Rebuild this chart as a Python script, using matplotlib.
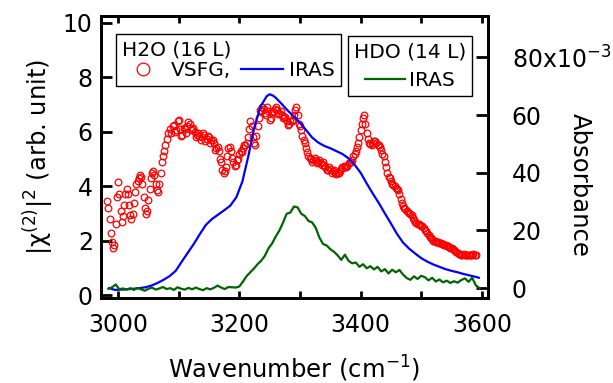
import numpy as np
from matplotlib import pyplot as plt
from matplotlib.ticker import FuncFormatter

plt.rcParams['font.family'] = ['DejaVu Sans']
plt.rcParams['mathtext.default'] = 'regular'

# H2O (16 L) VSFG, |chi(2)|^2 in arb. unit
vsfg_wn = [2982, 2984, 2986, 2988, 2990, 2992, 2994, 2996, 2998, 3000,
           3002, 3004, 3006, 3008, 3010, 3012, 3014, 3016, 3018, 3020,
           3022, 3024, 3026, 3028, 3030, 3032, 3034, 3036, 3038, 3040,
           3042, 3044, 3046, 3048, 3050, 3052, 3054, 3056, 3058, 3060,
           3062, 3064, 3066, 3068, 3070, 3072, 3074, 3076, 3078, 3080,
           3082, 3086, 3090, 3094, 3098, 3102, 3106, 3110, 3114, 3118,
           3122, 3126, 3130, 3134, 3138, 3142, 3146, 3150, 3154, 3158,
           3162, 3166, 3170, 3174, 3178, 3182, 3186, 3190, 3194, 3198,
           3202, 3206, 3210, 3214, 3216, 3218, 3220, 3222, 3226, 3230,
           3234, 3238, 3242, 3246, 3250, 3254, 3258, 3262, 3266, 3270,
           3274, 3278, 3282, 3286, 3290, 3292, 3294, 3296, 3298, 3302,
           3306, 3310, 3314, 3318, 3322, 3326, 3330, 3334, 3338, 3342,
           3346, 3350, 3354, 3358, 3362, 3366, 3370, 3374, 3378, 3382,
           3386, 3390, 3394, 3398, 3400, 3402, 3404, 3406, 3408, 3410,
           3414, 3418, 3422, 3426, 3430, 3434, 3438, 3442, 3446, 3450,
           3454, 3458, 3462, 3466, 3470, 3474, 3478, 3482, 3486, 3490,
           3494, 3498, 3502, 3506, 3510, 3514, 3518, 3522, 3526, 3530,
           3534, 3538, 3542, 3546, 3550, 3554, 3558, 3562, 3566, 3570,
           3574, 3578, 3582, 3586, 3590,
           3088, 3092, 3096, 3100, 3104, 3108, 3112, 3116, 3120, 3124,
           3128, 3132, 3136, 3140, 3144, 3148, 3152, 3156, 3160, 3164,
           3168, 3172, 3176, 3180, 3184, 3188, 3192, 3196, 3200, 3204,
           3208, 3212, 3224, 3228, 3232, 3236, 3240, 3244, 3248, 3252,
           3256, 3260, 3264, 3268, 3272, 3276, 3280, 3284, 3288, 3300,
           3304, 3308, 3312, 3316, 3320, 3324, 3328, 3332, 3336, 3340,
           3344, 3348, 3352, 3356, 3360, 3364, 3368, 3372, 3376, 3380,
           3384, 3388, 3392, 3396, 3412, 3416, 3420, 3424, 3428, 3432,
           3436, 3440, 3444, 3448, 3452, 3456, 3460, 3464, 3468, 3472,
           3476, 3480, 3484, 3488, 3492, 3496, 3500, 3504, 3508, 3512,
           3516, 3520, 3524, 3528, 3532, 3536, 3540, 3544, 3548, 3552,
           3556, 3560, 3564, 3568, 3572, 3576, 3580, 3584, 3588]
vsfg_val = [3.45, 3.2, 2.8, 2.3, 1.95, 1.75, 1.85, 2.6, 3.6, 4.15,
            3.7, 3.1, 2.7, 2.9, 3.3, 3.7, 3.9, 3.7, 3.3, 2.95,
            2.8, 3.0, 3.4, 3.8, 4.1, 4.2, 4.3, 4.4, 4.35, 4.1,
            3.6, 3.2, 3.0, 3.1, 3.5, 3.9, 4.3, 4.5, 4.55, 4.4,
            4.1, 3.85, 3.8, 4.1, 4.5, 4.9, 5.1, 5.3, 5.5, 5.75,
            5.95, 6.1, 6.2, 6.0, 6.4, 6.1, 5.9, 6.1, 6.2, 6.3,
            6.1, 6.0, 5.9, 5.85, 5.8, 5.9, 5.75, 5.8, 5.7, 5.6,
            5.4, 5.3, 4.9, 4.5, 4.7, 5.4, 5.3, 4.9, 4.8, 5.0,
            5.3, 5.4, 5.5, 5.8, 6.1, 6.4, 6.2, 5.8, 5.5, 6.2,
            6.8, 6.9, 6.7, 6.9, 6.45, 6.7, 6.85, 6.8, 6.7, 6.6,
            6.55, 6.4, 6.3, 6.4, 6.6, 6.8, 6.9, 6.6, 6.3, 6.05,
            5.7, 5.4, 5.1, 5.0, 4.95, 4.97, 4.9, 4.85, 4.9, 4.7,
            4.6, 4.65, 4.55, 4.5, 4.48, 4.55, 4.7, 4.72, 4.75, 4.9,
            4.97, 5.2, 5.45, 5.8, 6.05, 6.3, 6.5, 6.6, 6.3, 5.95,
            5.6, 5.5, 5.65, 5.6, 5.5, 5.35, 5.1, 4.7, 4.36, 4.2,
            4.05, 3.95, 3.87, 3.55, 3.26, 3.15, 3.05, 3.0, 2.85, 2.7,
            2.62, 2.58, 2.53, 2.4, 2.3, 2.15, 2.05, 1.98, 1.95, 1.93,
            1.9, 1.85, 1.8, 1.78, 1.72, 1.67, 1.6, 1.52, 1.49, 1.5,
            1.46, 1.49, 1.47, 1.5, 1.48,
            5.95, 6.25, 6.05, 6.45, 5.85, 6.15, 5.95, 6.35, 6.05, 6.15,
            5.8, 5.95, 5.7, 5.95, 5.65, 5.85, 5.6, 5.7, 5.35, 5.45,
            5.0, 4.6, 4.55, 5.1, 5.45, 5.05, 4.75, 4.95, 5.2, 5.25,
            5.5, 5.6, 5.6, 5.85, 6.5, 6.75, 6.85, 6.6, 6.75, 6.5,
            6.75, 6.9, 6.65, 6.75, 6.5, 6.55, 6.25, 6.4, 6.45, 6.2,
            5.85, 5.6, 5.25, 5.05, 4.9, 5.05, 4.85, 4.95, 4.8, 4.8,
            4.6, 4.7, 4.5, 4.6, 4.45, 4.5, 4.65, 4.75, 4.7, 4.85,
            4.9, 5.1, 5.3, 5.6, 5.75, 5.55, 5.6, 5.65, 5.5, 5.45,
            5.2, 4.9, 4.5, 4.3, 4.1, 4.0, 3.9, 3.7, 3.4, 3.2,
            3.1, 3.02, 2.95, 2.78, 2.66, 2.6, 2.55, 2.47, 2.35, 2.22,
            2.1, 2.0, 1.96, 1.94, 1.91, 1.87, 1.83, 1.79, 1.75, 1.7,
            1.63, 1.56, 1.5, 1.48, 1.47, 1.48, 1.46, 1.49, 1.47]

# H2O (16 L) IRAS absorbance (x10^-3)
h2o_wn = [2985, 2995, 3005, 3015, 3025, 3035, 3045, 3055, 3065, 3075,
          3085, 3095, 3105, 3115, 3125, 3135, 3145, 3155, 3165, 3175,
          3185, 3195, 3205, 3215, 3225, 3235, 3245, 3250, 3255, 3260,
          3270, 3280, 3290, 3300, 3310, 3320, 3330, 3340, 3350, 3360,
          3370, 3380, 3390, 3400, 3410, 3420, 3430, 3440, 3450, 3460,
          3470, 3480, 3490, 3500, 3510, 3520, 3530, 3540, 3550, 3560,
          3570, 3580, 3590, 3595]
h2o_abs = [0.0, -0.6, -0.5, -0.4, -0.2, 0.0, 0.3, 0.9, 1.8, 2.9,
           4.2, 6.0, 9.2, 12.3, 15.4, 18.8, 22.0, 24.0, 25.5, 27.0,
           28.6, 31.5, 37.0, 46.0, 56.0, 63.0, 66.5, 67.2, 66.8, 66.0,
           63.8, 61.5, 59.5, 57.3, 54.8, 52.2, 50.5, 49.3, 48.5, 47.5,
           46.5, 45.0, 42.8, 40.0, 36.3, 32.8, 29.5, 25.9, 22.4, 18.8,
           15.8, 13.7, 12.0, 10.4, 9.2, 8.2, 7.4, 6.6, 6.0, 5.5,
           4.9, 4.4, 3.9, 3.6]

# HDO (14 L) IRAS absorbance (x10^-3)
hdo_wn = [2984, 2990, 2996, 3002, 3008, 3014, 3020, 3026, 3032, 3038,
          3044, 3050, 3056, 3062, 3068, 3074, 3080, 3086, 3092, 3098,
          3104, 3110, 3116, 3122, 3128, 3134, 3140, 3146, 3152, 3158,
          3164, 3170, 3176, 3182, 3188, 3194, 3200, 3206, 3212, 3218,
          3224, 3230, 3236, 3242, 3248, 3254, 3260, 3266, 3272, 3278,
          3284, 3290, 3296, 3302, 3308, 3314, 3320, 3326, 3332, 3338,
          3344, 3350, 3356, 3362, 3368, 3374, 3380, 3386, 3392, 3398,
          3404, 3410, 3416, 3422, 3428, 3434, 3440, 3446, 3452, 3458,
          3464, 3470, 3476, 3482, 3488, 3494, 3500, 3506, 3512, 3518,
          3524, 3530, 3536, 3542, 3548, 3554, 3560, 3566, 3572, 3578,
          3584, 3590, 3596]
hdo_abs = [-0.2, 0.3, 1.3, -0.4, -0.1, -0.5, 0.0, -0.6, 0.1, -0.4,
           -0.9, -0.2, 0.2, -0.5, -0.1, 0.4, -0.3, 0.0, -0.6, 0.3,
           -0.2, -0.5, 0.1, -0.4, 0.2, -0.3, -0.7, 0.0, -0.4, 0.1,
           0.9, 0.2, -0.3, 0.4, 0.3, 0.2, 0.6, 2.3, 4.2, 5.5,
           6.8, 8.3, 9.5, 11.2, 13.8, 15.5, 17.9, 20.0, 22.7, 25.8,
           26.2, 28.3, 28.0, 25.8, 25.0, 23.3, 22.8, 20.9, 17.5, 15.3,
           14.8, 13.5, 12.6, 11.4, 9.8, 11.6, 9.5, 8.6, 8.9, 7.4,
           8.3, 6.9, 7.6, 6.5, 7.4, 5.8, 6.6, 5.1, 6.4, 5.5,
           6.3, 4.7, 3.5, 2.9, 4.1, 3.2, 4.3, 3.8, 2.7, 3.6,
           2.3, 3.0, 2.0, 2.6, 1.8, 2.4, 1.9, 2.8, 3.4, 2.2,
           3.6, 1.0, 0.0]

left_ticks = [0, 2, 4, 6, 8, 10]
right_ticks = [0, 20, 40, 60, 80]
x_ticks = [3000, 3100, 3200, 3300, 3400, 3500, 3600]
x_labels = {3000: '3000', 3200: '3200', 3400: '3400', 3600: '3600'}

fig = plt.figure(figsize=(6.13, 3.83), dpi=100)
ax = fig.add_axes([0.165, 0.222, 0.631, 0.736])
ax2 = ax.twinx()

vs, = ax.plot(vsfg_wn, vsfg_val, 'o', mfc='none', mec='#ff0000', ms=4.8, mew=0.9, label='VSFG,')
b, = ax2.plot(h2o_wn, np.array(h2o_abs) * 1e-3, color='#0000ff', lw=1.6, label='IRAS')
g, = ax2.plot(hdo_wn, np.array(hdo_abs) * 1e-3, color='#006400', lw=1.6, label='IRAS')

ax.set_xlim(2972, 3610)
ax.set_ylim(-0.1, 10.25)
ax2.set_ylim(-3.4e-3, 94.3e-3)

ax.set_xticks(x_ticks)
ax.set_xticklabels([x_labels.get(t, '') for t in x_ticks])
ax.set_yticks(left_ticks)
ax2.set_yticks([t * 1e-3 for t in right_ticks])

def right_fmt(v, pos):
    n = int(round(v * 1e3))
    if n == 80:
        return '80x10$^{-3}$'
    return str(n)

ax2.yaxis.set_major_formatter(FuncFormatter(right_fmt))

for a in (ax, ax2):
    for s in a.spines.values():
        s.set_linewidth(2)
ax.tick_params(axis='x', which='both', direction='in', top=True, length=5, width=2, labelsize=17, pad=11)
ax.tick_params(axis='y', direction='in', length=8, width=2, labelsize=17, pad=6)
ax2.tick_params(axis='y', direction='in', length=9, width=2, labelsize=17, pad=17)

ax.set_xlabel('Wavenumber (cm$^{-1}$)', fontsize=17.5, labelpad=12)
ax.set_ylabel('|χ$^{(2)}$|$^{2}$ (arb. unit)', fontsize=17.5, labelpad=5)
fig.text(580 / 613, 1 - 185 / 383, 'Absorbance', fontsize=17.5, rotation=270,
         ha='center', va='center')

leg1 = ax2.legend([vs, b], ['VSFG,', 'IRAS'], title='H2O (16 L)', ncol=2,
                  loc='upper left', bbox_to_anchor=(0.039, 0.936), fontsize=14.5,
                  title_fontsize=14.5, alignment='left', fancybox=False, framealpha=1,
                  edgecolor='black', borderpad=0.3, handlelength=2.1, handletextpad=0.3,
                  columnspacing=0.5, borderaxespad=0, markerscale=1.9, labelspacing=0.1)
leg1.get_frame().set_linewidth(1)
ax2.add_artist(leg1)
leg2 = ax2.legend([g], ['IRAS'], title='HDO (14 L)', loc='upper left',
                  bbox_to_anchor=(0.638, 0.929), fontsize=14.5, title_fontsize=14.5,
                  fancybox=False, framealpha=1, edgecolor='black', borderpad=0.3,
                  handlelength=2.0, handletextpad=0.2, borderaxespad=0)
leg2.get_frame().set_linewidth(1)

fig.savefig('out.png', dpi=100)
